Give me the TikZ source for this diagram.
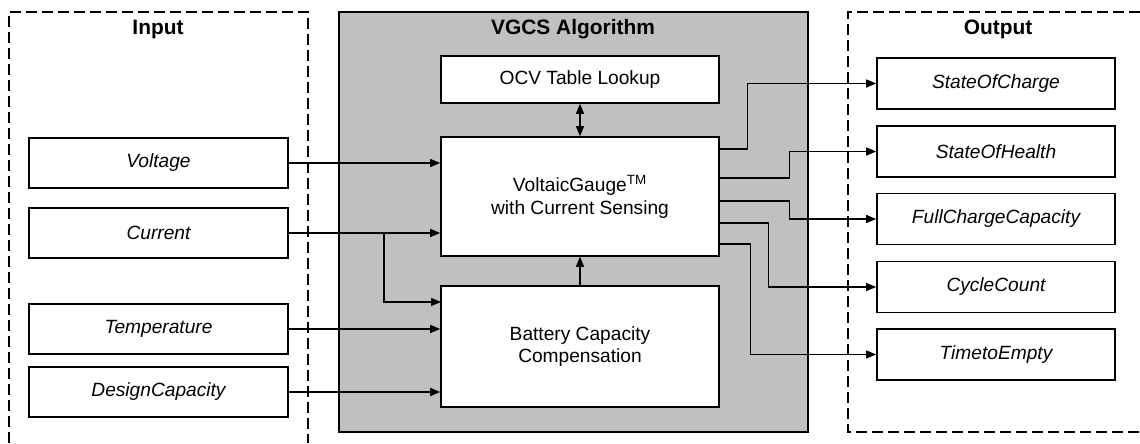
\documentclass[tikz,border=0pt]{standalone}
\usepackage{fontspec}
\setmainfont{Liberation Sans}
\usetikzlibrary{arrows.meta}
\definecolor{algogray}{RGB}{192,192,192}

\begin{document}
\begin{tikzpicture}[scale=1.0000]
	\tikzstyle{every node}=[font=\fontsize{10.9}{13}\selectfont]
	\tikzstyle{blk}=[draw, line width=0.9pt, fill=white, align=center, inner sep=0pt]
	\tikzstyle{sig}=[blk, minimum height=1.0000cm, font=\fontsize{10.9}{13}\selectfont\itshape]
	\tikzstyle{ttl}=[font=\fontsize{11.9}{14}\selectfont\bfseries]
	\tikzstyle{wire}=[line width=0.7pt, -{Triangle[length=2.0mm,width=1.6mm]}]
	\tikzstyle{frame}=[line width=0.8pt, dash pattern=on 0.22cm off 0.1cm]

	\useasboundingbox (0.0000,0.0000) rectangle (22.8000,8.8600);

	% frames
	\draw [frame]  (0.1800,0.0000) -- (0.1800,8.6200) -- (6.1600,8.6200) -- (6.1600,0.0000);
	\draw [frame]  (22.8000,8.6200) -- (16.9600,8.6200) -- (16.9600,0.2200) -- (22.8000,0.2200);
	\draw [line width=0.9pt, fill=algogray]  (6.7800,0.2200) rectangle (16.1600,8.6200);
	\node [ttl] (intitle)  at (3.1600,8.2800)  {Input};
	\node [ttl] (algtitle) at (11.4600,8.2800) {VGCS Algorithm};
	\node [ttl] (outtitle) at (19.9600,8.2800) {Output};

	% inputs
	\node [sig, minimum width=5.1800cm] (volt) at (3.1700,5.6000) {Voltage};
	\node [sig, minimum width=5.1800cm] (cur)  at (3.1700,4.2000) {Current};
	\node [sig, minimum width=5.1800cm] (temp) at (3.1700,2.2800) {Temperature};
	\node [sig, minimum width=5.1800cm] (dcap) at (3.1700,1.0200) {DesignCapacity};

	% algorithm blocks
	\node [blk, minimum width=5.5600cm, minimum height=0.9400cm] (ocv)    at (11.6000,7.2700) {OCV Table Lookup};
	\node [blk, minimum width=5.5600cm, minimum height=2.3800cm] (vgauge) at (11.6000,4.9300) {VoltaicGauge\textsuperscript{TM}\\with Current Sensing};
	\node [blk, minimum width=5.5600cm, minimum height=2.4200cm] (bcc)    at (11.6000,1.9300) {Battery Capacity\\Compensation};

	% outputs
	\node [sig, minimum width=4.7600cm, minimum height=1.0200cm] (soc) at (19.9200,7.1900) {StateOfCharge};
	\node [sig, minimum width=4.7600cm, minimum height=1.0200cm] (soh) at (19.9200,5.8300) {StateOfHealth};
	\node [sig, minimum width=4.7600cm, minimum height=1.0200cm] (fcc) at (19.9200,4.4800) {FullChargeCapacity};
	\node [sig, minimum width=4.7600cm, minimum height=1.0200cm] (cyc) at (19.9200,3.1200) {CycleCount};
	\node [sig, minimum width=4.7600cm, minimum height=1.0200cm] (tte) at (19.9200,1.7700) {TimetoEmpty};

	% wires
	\coordinate (cursplit) at (7.6800,4.2000);
	\coordinate (bccin)    at (8.8200,2.8200);
	\draw [wire]  (volt.east) -- (vgauge.west |- volt.east);
	\draw [wire]  (cur.east) -- (vgauge.west |- cur.east);
	\draw [wire]  (cursplit) |- (bccin);
	\draw [wire]  (temp.east) -- (bcc.west |- temp.east);
	\draw [wire]  (dcap.east) -- (bcc.west |- dcap.east);
	\draw [wire, {Triangle[length=2.0mm,width=1.6mm]}-{Triangle[length=2.0mm,width=1.6mm]}]  (ocv.south) -- (vgauge.north);
	\draw [wire]  (bcc.north) -- (vgauge.south);
	\draw [wire]  ([yshift=0.9500cm]vgauge.east) -- ++(0.5600,0) |- (soc.west);
	\draw [wire]  ([yshift=0.3700cm]vgauge.east) -- ++(1.4000,0) |- (soh.west);
	\draw [wire]  ([yshift=-0.0900cm]vgauge.east) -- ++(1.4000,0) |- (fcc.west);
	\draw [wire]  ([yshift=-0.5300cm]vgauge.east) -- ++(0.9800,0) |- (cyc.west);
	\draw [wire]  ([yshift=-0.9500cm]vgauge.east) -- ++(0.6200,0) |- (tte.west);

\end{tikzpicture}
\end{document}
